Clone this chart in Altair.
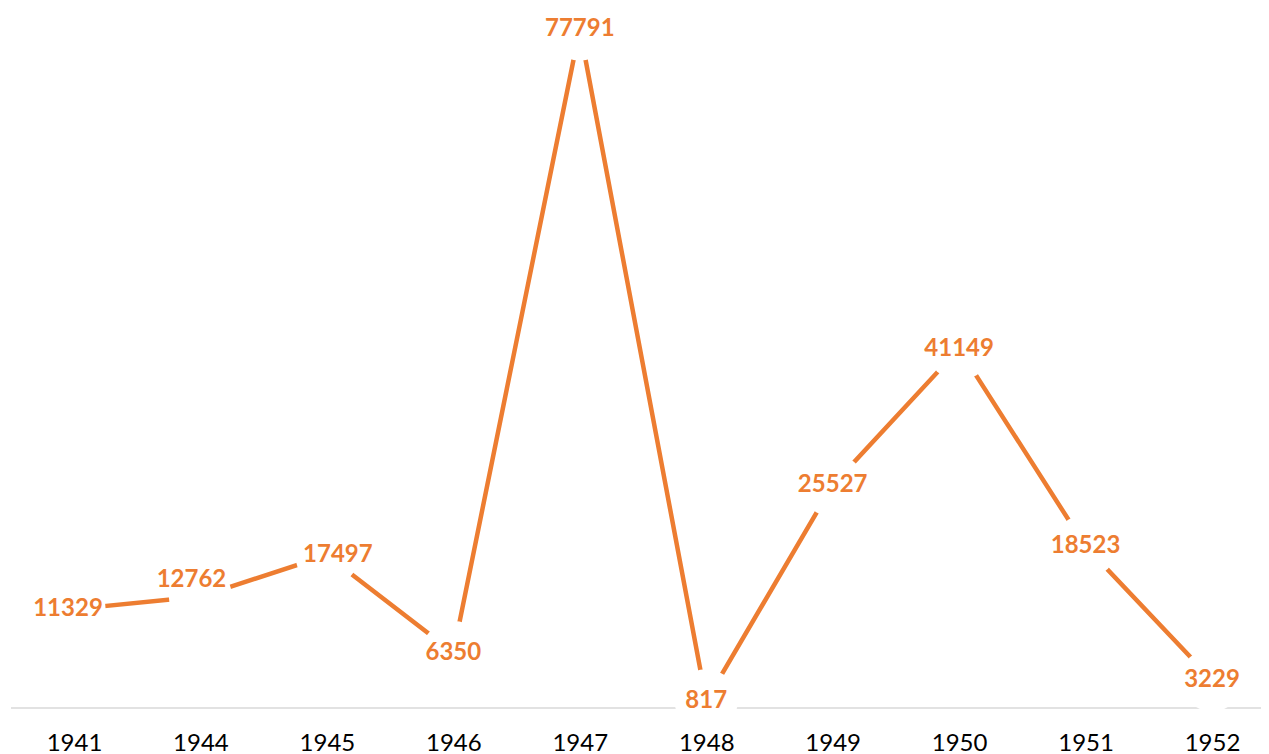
import altair as alt
import pandas as pd

years = ["1941", "1944", "1945", "1946", "1947", "1948", "1949", "1950", "1951", "1952"]
values = [11329, 12762, 17497, 6350, 77791, 817, 25527, 41149, 18523, 3229]

# label nudges (dx, dy) where the reference moves a label off its point
nudges = {"1941": (-6, 0), "1944": (-9, -17), "1945": (11, 0)}

df = pd.DataFrame({"year": years, "value": values})

ORANGE = "#ED7D31"
FONT = "Lato"

x_enc = alt.X("year:O", sort=years,
              scale=alt.Scale(type="point", range=[66, 1204], padding=0),
              axis=alt.Axis(title=None, domain=False, ticks=False, grid=False,
                            labelAngle=0, labelFont=FONT, labelFontSize=24,
                            labelColor="#000000", labelPadding=23))
y_enc = alt.Y("value:Q", scale=alt.Scale(domain=[0, 80200], nice=False, zero=True), axis=None)

base = alt.Chart(df)

axis_line = alt.Chart(pd.DataFrame({"v": [0]})).mark_rule(
    color="#D9D9D9", strokeWidth=1.6
).encode(y=alt.Y("v:Q", scale=alt.Scale(domain=[0, 80200], nice=False), axis=None),
         x=alt.value(3), x2=alt.value(1253))

line = base.mark_line(color=ORANGE, strokeWidth=4.5, strokeCap="butt").encode(x=x_enc, y=y_enc)

holes = base.mark_point(shape="circle", filled=True, color="white", opacity=1,
                        size=4000, strokeWidth=0).encode(x=x_enc, y=y_enc)

text_style = dict(font=FONT, fontSize=24, fontWeight="bold", color=ORANGE,
                  align="center", baseline="middle")

plain_years = [y for y in years if y not in nudges]
label_layers = [
    base.transform_filter(alt.FieldOneOfPredicate(field="year", oneOf=plain_years))
    .mark_text(**text_style)
    .encode(x=x_enc, y=y_enc, text=alt.Text("value:Q", format="d"))
]
for yr, (ddx, ddy) in nudges.items():
    label_layers.append(
        base.transform_filter(alt.datum.year == yr)
        .mark_text(dx=ddx, dy=ddy, **text_style)
        .encode(x=x_enc, y=y_enc, text=alt.Text("value:Q", format="d"))
    )

chart = alt.layer(axis_line, line, holes, *label_layers).properties(
    width=1253, height=700,
    autosize=alt.AutoSizeParams(type="none"),
    padding={"left": 0, "top": 0, "right": 0, "bottom": 46},
).configure_view(stroke=None)

chart.save("out.html", embed_options={"renderer": "svg", "actions": False})
